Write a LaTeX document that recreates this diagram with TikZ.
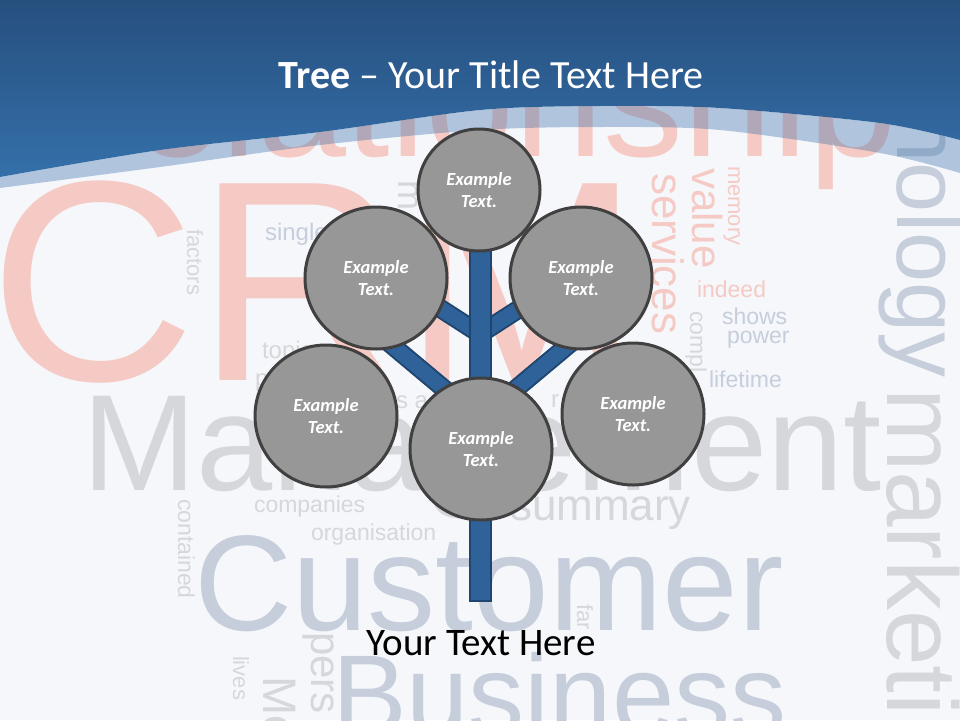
\documentclass[tikz,border=0pt]{standalone}
\usepackage{fontspec}
\setmainfont{Carlito}
\newfontfamily\cloud{Liberation Sans}
\newcommand\wfs[1]{\cloud\fontsize{#1}{#1}\selectfont}
\newcommand\cfs[2]{\fontsize{#1}{#2}\selectfont}
\definecolor{bgc}{HTML}{F5F7FB}
\definecolor{pinkw}{HTML}{F6CAC4}
\definecolor{grayw}{HTML}{D5D7DB}
\definecolor{bluew}{HTML}{C6CEDB}
\definecolor{hdtop}{HTML}{264F7E}
\definecolor{hdbot}{HTML}{3570AA}
\definecolor{bandc}{HTML}{3068A6}
\definecolor{trunkfill}{HTML}{2F6299}
\definecolor{trunkedge}{HTML}{1F4670}
\definecolor{leaffill}{HTML}{979797}
\definecolor{leafedge}{HTML}{404040}
\tikzset{
  word/.style={inner sep=0pt, outer sep=0pt, anchor=base west},
  vword/.style={word, rotate=-90},
  branchedge/.style={draw=trunkedge, line width=19pt},
  branchfill/.style={draw=trunkfill, line width=15pt},
  trunkbox/.style={fill=trunkfill, draw=trunkedge, line width=2pt},
  leaf/.style={circle, draw=leafedge, line width=3pt, fill=leaffill, text=white,
    font=\cfs{18.5}{22.5}\bfseries\itshape, align=center, inner sep=0pt},
  titletext/.style={text=white, font=\cfs{40}{46}, anchor=base, inner sep=0pt},
  foottext/.style={text=black, font=\cfs{39}{44}, anchor=base, inner sep=0pt}
}
\begin{document}
\begin{tikzpicture}[x=1pt,y=-1pt]
\useasboundingbox (0,0) rectangle (960,720);
\fill[bgc] (0,0) rectangle (960,720);

% word cloud
\node[word, text=pinkw, font=\wfs{160}] (relationship) at (17,156) {Relationship};
\node[word, text=pinkw, font=\wfs{286}] (crm) at (-10,380) {CRM};
\node[word, text=grayw, font=\wfs{137}] (management) at (82,490) {Management};
\node[word, text=bluew, font=\wfs{136}] (customer) at (194,630) {Customer};
\node[word, text=bluew, font=\wfs{112}] (business) at (332,733) {Business};
\node[vword, text=bluew, font=\wfs{90}] (technology) at (897,-58) {technology};
\node[vword, text=grayw, font=\wfs{100}] (marketing) at (887,388) {marketing};
\node[word, text=grayw, font=\wfs{44}] (summary) at (510,520) {summary};
\node[word, text=grayw, font=\wfs{23}] (companies) at (254,512) {companies};
\node[word, text=grayw, font=\wfs{23}] (organisation) at (311,540) {organisation};
\node[word, text=bluew, font=\wfs{24}] (single) at (265,240) {single};
\node[word, text=grayw, font=\wfs{24}] (topics) at (262,358) {topics};
\node[word, text=grayw, font=\wfs{24}] (fragp) at (255,386) {p};
\node[word, text=grayw, font=\wfs{24}] (fragsa) at (396,408) {s a};
\node[word, text=grayw, font=\wfs{24}] (fragr) at (551,407) {r};
\node[word, text=pinkw, font=\wfs{23}] (indeed) at (697,297) {indeed};
\node[word, text=bluew, font=\wfs{23}] (shows) at (722,324) {shows};
\node[word, text=bluew, font=\wfs{23}] (power) at (727,343) {power};
\node[word, text=bluew, font=\wfs{23}] (lifetime) at (709,387) {lifetime};
\node[vword, text=grayw, font=\wfs{22}] (factors) at (187,229) {factors};
\node[vword, text=grayw, font=\wfs{23}] (contained) at (178,499) {contained};
\node[vword, text=grayw, font=\wfs{22}] (lives) at (233,656) {lives};
\node[vword, text=grayw, font=\wfs{42}] (pers) at (311,632) {pers};
\node[vword, text=grayw, font=\wfs{47}] (mo) at (263,676) {Mo};
\node[vword, text=grayw, font=\wfs{22}] (far) at (577,604) {far};
\node[vword, text=pinkw, font=\wfs{22}] (memory) at (728,166) {memory};
\node[vword, text=pinkw, font=\wfs{42}] (value) at (692,168) {value};
\node[vword, text=pinkw, font=\wfs{44}] (services) at (652,173) {services};
\node[vword, text=grayw, font=\wfs{23}] (compl) at (690,311) {compl};
\node[vword, text=grayw, font=\wfs{36}] (fragm) at (398,180) {m};

% header
\shade[top color=hdtop, bottom color=hdbot]
  (0,0) -- (960,0) -- plot[smooth] coordinates {(960,140) (880,123) (720,108) (600,106) (480,110) (320,132) (160,150) (0,177)} -- cycle;
\fill[bandc, fill opacity=0.35]
  plot[smooth] coordinates {(0,177) (160,150) (320,132) (480,110) (600,106) (720,108) (880,123) (960,140)}
  -- plot[smooth] coordinates {(960,173) (880,153) (720,130) (600,127) (480,130) (320,145) (160,167) (0,188)} -- cycle;
\node[titletext] (title) at (491,88) {\textbf{Tree} -- Your Title Text Here};

% tree branches
\coordinate (junction) at (480,334);
\coordinate (innerL) at (421,296);
\coordinate (innerR) at (539,296);
\coordinate (outerLa) at (375,331);
\coordinate (outerLb) at (467,408);
\coordinate (outerRa) at (585,331);
\coordinate (outerRb) at (493,408);
\coordinate (trunktop) at (469.5,245);
\coordinate (trunkbot) at (490.5,601);
\draw[branchedge] (innerL) -- (junction);
\draw[branchedge] (innerR) -- (junction);
\draw[branchedge] (outerLa) -- (outerLb);
\draw[branchedge] (outerRa) -- (outerRb);
\draw[branchfill] (innerL) -- (junction);
\draw[branchfill] (innerR) -- (junction);
\draw[branchfill] (outerLa) -- (outerLb);
\draw[branchfill] (outerRa) -- (outerRb);
\draw[trunkbox] (trunktop) rectangle (trunkbot);

% leaves
\node[leaf, minimum size=122pt] (ctop) at (479,190) {Example\\Text.};
\node[leaf, minimum size=142pt] (cul) at (376,278) {Example\\Text.};
\node[leaf, minimum size=142pt] (cur) at (581,278) {Example\\Text.};
\node[leaf, minimum size=142pt] (cll) at (326,416) {Example\\Text.};
\node[leaf, minimum size=142pt] (clr) at (633,414) {Example\\Text.};
\node[leaf, minimum size=142pt] (cbot) at (481,449) {Example\\Text.};

\node[foottext] (footer) at (481,655) {Your Text Here};
\end{tikzpicture}
\end{document}
